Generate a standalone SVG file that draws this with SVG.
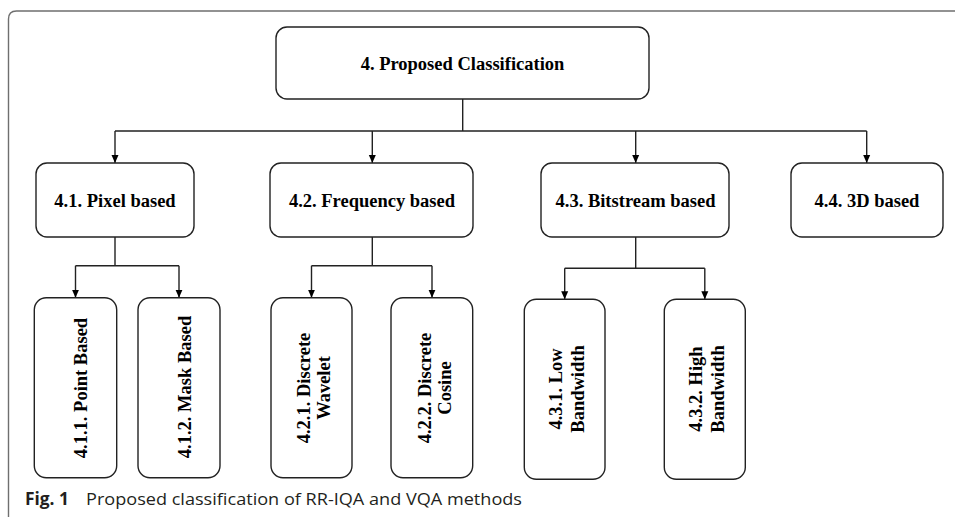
<svg xmlns="http://www.w3.org/2000/svg" width="955" height="517" viewBox="0 0 955 517">
<defs>
<marker id="arr" viewBox="0 0 8 8" markerWidth="8" markerHeight="8" refX="8" refY="4" orient="auto" markerUnits="userSpaceOnUse">
<path d="M0,0.5 L8,4 L0,7.5 Z" fill="#000"/>
</marker>
</defs>
<style>
.box{fill:#fff;stroke:#222;stroke-width:1.4}
.lbl{font-family:"Liberation Serif","Times New Roman",serif;font-weight:bold;font-size:18.5px;fill:#000;text-anchor:middle}
.con{fill:none;stroke:#222;stroke-width:1.4}
.arr{fill:none;stroke:#222;stroke-width:1.4;marker-end:url(#arr)}
.cap{font-family:"Open Sans","Noto Sans","Liberation Sans",sans-serif;font-size:17px;fill:#231f20}
</style>
<rect width="955" height="517" fill="#fff"/>
<path d="M8.5,517 L8.5,19 Q8.5,11 16.5,11 L955,11" fill="none" stroke="#6f6f6f" stroke-width="1.4"/>
<g id="connectors">
<path class="con" d="M462.7,99 V131 M115,131 H866.7"/>
<path class="arr" d="M115,131 V163"/>
<path class="arr" d="M372.3,131 V163"/>
<path class="arr" d="M635.7,131 V163"/>
<path class="arr" d="M866.7,131 V163"/>
<path class="con" d="M115,237 V265.7 M75.5,265.7 H179"/>
<path class="arr" d="M75.5,265.7 V297.7"/>
<path class="arr" d="M179,265.7 V297.7"/>
<path class="con" d="M372.3,237 V265.7 M311.5,265.7 H432"/>
<path class="arr" d="M311.5,265.7 V297.7"/>
<path class="arr" d="M432,265.7 V297.7"/>
<path class="con" d="M635.7,237 V268.3 M564.7,268.3 H704.8"/>
<path class="arr" d="M564.7,268.3 V299.3"/>
<path class="arr" d="M704.8,268.3 V299.3"/>
</g>
<g id="n4">
<rect class="box" x="276" y="27" width="373" height="72" rx="11"/>
<text class="lbl" x="462.5" y="70">4. Proposed Classification</text>
</g>
<g id="n41">
<rect class="box" x="36" y="163" width="158" height="74" rx="11"/>
<text class="lbl" x="115" y="206.5">4.1. Pixel based</text>
</g>
<g id="n42">
<rect class="box" x="270" y="163" width="203" height="74" rx="11"/>
<text class="lbl" x="372" y="206.5">4.2. Frequency based</text>
</g>
<g id="n43">
<rect class="box" x="541" y="163" width="188" height="74" rx="11"/>
<text class="lbl" x="635.5" y="206.5">4.3. Bitstream based</text>
</g>
<g id="n44">
<rect class="box" x="791" y="163" width="152" height="74" rx="11"/>
<text class="lbl" x="867" y="206.5">4.4. 3D based</text>
</g>
<g id="n411">
<rect class="box" x="34.3" y="297.7" width="82.4" height="180" rx="12"/>
<text class="lbl" transform="translate(87,388) rotate(-90)">4.1.1. Point Based</text>
</g>
<g id="n412">
<rect class="box" x="138" y="297.7" width="82" height="180" rx="12"/>
<text class="lbl" transform="translate(190.5,387) rotate(-90)">4.1.2. Mask Based</text>
</g>
<g id="n421">
<rect class="box" x="271" y="297.7" width="81" height="180" rx="12"/>
<text class="lbl" transform="translate(310,388) rotate(-90)">4.2.1. Discrete</text>
<text class="lbl" transform="translate(330,388) rotate(-90)">Wavelet</text>
</g>
<g id="n422">
<rect class="box" x="391" y="297.7" width="81.7" height="180" rx="12"/>
<text class="lbl" transform="translate(431,388) rotate(-90)">4.2.2. Discrete</text>
<text class="lbl" transform="translate(451,388) rotate(-90)">Cosine</text>
</g>
<g id="n431">
<rect class="box" x="524.3" y="299.3" width="80.7" height="180" rx="12"/>
<text class="lbl" transform="translate(562,389) rotate(-90)">4.3.1. Low</text>
<text class="lbl" transform="translate(583.5,389) rotate(-90)">Bandwidth</text>
</g>
<g id="n432">
<rect class="box" x="664.3" y="299.3" width="81" height="180" rx="12"/>
<text class="lbl" transform="translate(702,389) rotate(-90)">4.3.2. High</text>
<text class="lbl" transform="translate(723.5,389) rotate(-90)">Bandwidth</text>
</g>
<g id="caption">
<text class="cap" x="25" y="505" font-weight="bold" textLength="44" lengthAdjust="spacingAndGlyphs">Fig. 1</text>
<text class="cap" x="86" y="505" textLength="436" lengthAdjust="spacingAndGlyphs">Proposed classification of RR-IQA and VQA methods</text>
</g>
</svg>
